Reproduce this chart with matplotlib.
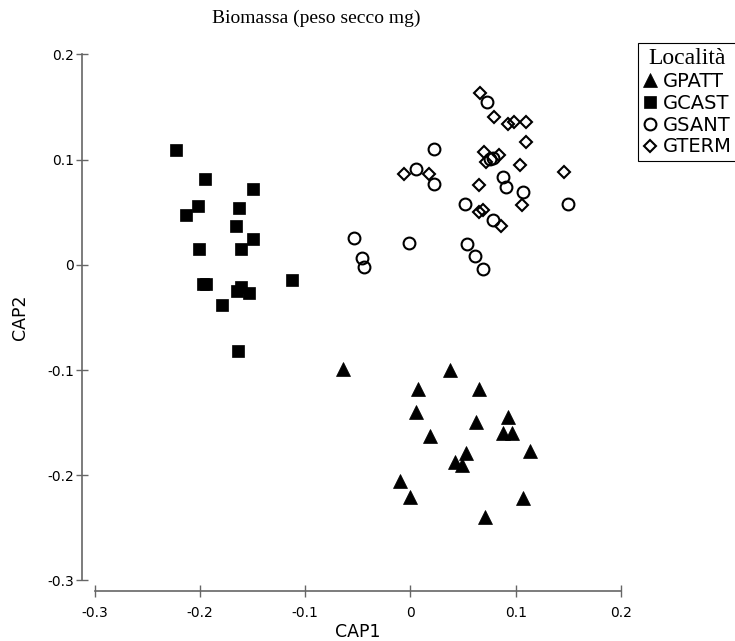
import matplotlib
matplotlib.use("Agg")
import matplotlib.pyplot as plt

# CAP scores per location
gpatt_x = [-0.064, 0.038, 0.007, 0.065, 0.005, 0.062, 0.093, 0.088, 0.096, 0.019,
           0.114, 0.053, 0.042, 0.049, -0.010, 0.000, 0.107, 0.071]
gpatt_y = [-0.099, -0.100, -0.118, -0.118, -0.140, -0.149, -0.145, -0.160, -0.160, -0.163,
           -0.177, -0.179, -0.187, -0.190, -0.205, -0.221, -0.222, -0.240]

gcast_x = [-0.223, -0.195, -0.150, -0.202, -0.213, -0.163, -0.166, -0.150, -0.201, -0.161,
           -0.113, -0.197, -0.194, -0.161, -0.165, -0.153, -0.179, -0.164]
gcast_y = [0.109, 0.082, 0.072, 0.056, 0.047, 0.054, 0.037, 0.025, 0.015, 0.015,
           -0.014, -0.018, -0.018, -0.021, -0.025, -0.027, -0.038, -0.082]

gsant_x = [0.073, 0.022, 0.005, 0.022, 0.088, 0.091, 0.107, 0.052, 0.150, 0.078,
           -0.054, -0.001, 0.054, -0.046, -0.044, 0.061, 0.069, 0.076, 0.078]
gsant_y = [0.155, 0.110, 0.091, 0.077, 0.084, 0.074, 0.069, 0.058, 0.058, 0.043,
           0.026, 0.021, 0.020, 0.007, -0.002, 0.008, -0.004, 0.101, 0.102]

gterm_x = [0.066, 0.079, 0.093, 0.098, 0.110, 0.110, 0.070, 0.072, 0.084, 0.104,
           0.146, -0.006, 0.018, 0.065, 0.106, 0.065, 0.069, 0.086]
gterm_y = [0.163, 0.141, 0.134, 0.136, 0.136, 0.117, 0.107, 0.098, 0.104, 0.095,
           0.088, 0.086, 0.086, 0.076, 0.057, 0.050, 0.052, 0.037]

ticks = [-0.3, -0.2, -0.1, 0, 0.1, 0.2]
tick_labels = ["-0.3", "-0.2", "-0.1", "0", "0.1", "0.2"]

sans = ["DejaVu Sans"]
serif = ["Liberation Serif", "DejaVu Serif"]

fig = plt.figure(figsize=(7.35, 6.41), dpi=100)
ax = fig.add_axes([0.1288, 0.0944, 0.7161, 0.8206])

ax.plot(gpatt_x, gpatt_y, "^", color="black", ms=10, mew=0.5, ls="none", label="GPATT", clip_on=False)
ax.plot(gcast_x, gcast_y, "s", color="black", ms=9, mew=0.5, ls="none", label="GCAST", clip_on=False)
ax.plot(gsant_x, gsant_y, "o", mfc="none", mec="black", ms=8.5, mew=1.5, ls="none", label="GSANT", clip_on=False)
ax.plot(gterm_x, gterm_y, "D", mfc="none", mec="black", ms=6, mew=1.5, ls="none", label="GTERM", clip_on=False)

ax.set_xlim(-0.3, 0.2)
ax.set_ylim(-0.3, 0.2)
ax.set_xticks(ticks)
ax.set_xticklabels(tick_labels, family=sans, fontsize=12.5)
ax.set_yticks(ticks)
ax.set_yticklabels(tick_labels, family=sans, fontsize=12.5)

for side in ["top", "right"]:
    ax.spines[side].set_visible(False)
ax.spines["left"].set_position(("outward", 9))
ax.spines["bottom"].set_position(("outward", 7.5))
for side in ["left", "bottom"]:
    ax.spines[side].set_bounds(-0.3, 0.2)
    ax.spines[side].set_color("#666666")
    ax.spines[side].set_linewidth(1.2)
ax.tick_params(direction="inout", length=8, width=1.0, color="#666666")
ax.tick_params(axis="x", pad=7)
ax.tick_params(axis="y", pad=2)

ax.set_xlabel("CAP1", family=sans, fontsize=12.5, labelpad=2)
ax.set_ylabel("CAP2", family=sans, fontsize=12.5, labelpad=13)

fig.text(0.43, 0.972, "Biomassa (peso secco mg)", family=serif, fontsize=14,
         ha="center", va="center")

leg = fig.legend(loc="upper left", bbox_to_anchor=(0.868, 0.933), frameon=True,
                 fancybox=False, edgecolor="black", framealpha=1,
                 prop={"family": sans, "size": 14}, title="Località",
                 title_fontproperties={"family": serif, "size": 17},
                 handlelength=0.7, handletextpad=0.35, borderpad=0.25,
                 labelspacing=0.15, borderaxespad=0)
leg.get_frame().set_linewidth(0.8)
leg._legend_box.align = "center"

fig.savefig("out.png", dpi=100)
